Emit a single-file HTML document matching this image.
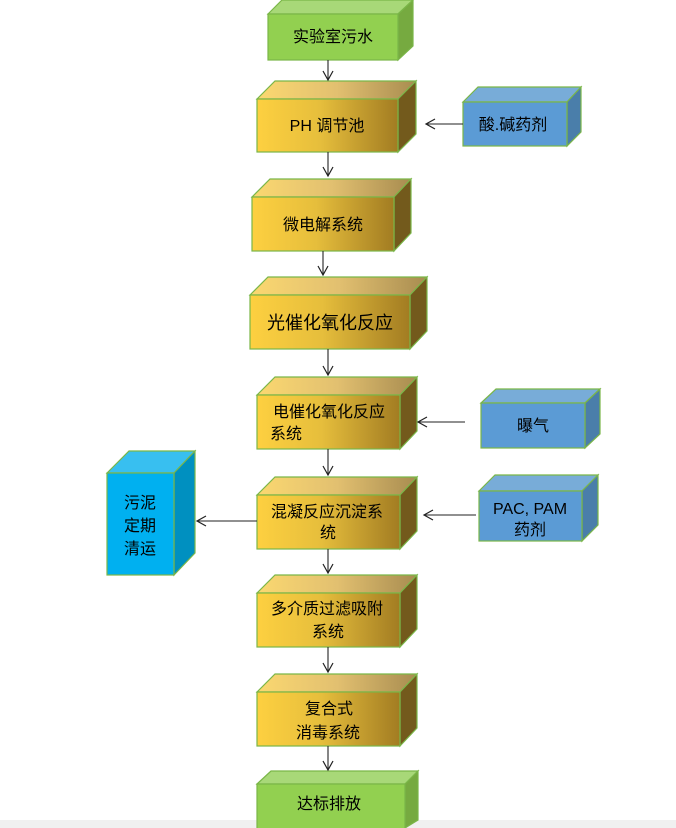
<!DOCTYPE html>
<html><head><meta charset="utf-8"><style>
html,body{margin:0;padding:0;background:#fff;}
svg{display:block;}
text{font-family:"Liberation Sans","Noto Sans CJK SC",sans-serif;fill:#000;}
</style></head><body>
<svg width="676" height="828" viewBox="0 0 676 828" xmlns="http://www.w3.org/2000/svg">
<defs>
<linearGradient id="gf" x1="0" x2="1" y1="0" y2="0"><stop offset="0" stop-color="#fdd040"/><stop offset="0.45" stop-color="#e6be3c"/><stop offset="1" stop-color="#a27c22"/></linearGradient>
<linearGradient id="gt" x1="0" x2="1" y1="0" y2="0"><stop offset="0" stop-color="#fbd870"/><stop offset="0.5" stop-color="#e2c070"/><stop offset="1" stop-color="#a88c50"/></linearGradient>
<marker id="ah" markerWidth="12" markerHeight="12" refX="10" refY="6" orient="auto" markerUnits="userSpaceOnUse"><path d="M1,1 L10,6 L1,11" fill="none" stroke="#222" stroke-width="1.2"/></marker>
</defs>
<rect x="0" y="820" width="676" height="8" fill="#f0f0f0"/>
<g stroke="#7ab648" stroke-width="1.2">
<polygon points="268,14 282,0 413,0 398,14" fill="#a8d878"/>
<polygon points="398,14 413,0 413,46 398,60" fill="#76aa40"/>
<rect x="268" y="14" width="130" height="46" fill="#92d050"/>
<polygon points="257,99 275,81 416,81 398,99" fill="url(#gt)"/>
<polygon points="398,99 416,81 416,134 398,152" fill="#735a1c"/>
<rect x="257" y="99" width="141" height="53" fill="url(#gf)"/>
<polygon points="252,197 270,179 411,179 394,197" fill="url(#gt)"/>
<polygon points="394,197 411,179 411,233 394,251" fill="#735a1c"/>
<rect x="252" y="197" width="142" height="54" fill="url(#gf)"/>
<polygon points="250,295 268,277 427,277 410,295" fill="url(#gt)"/>
<polygon points="410,295 427,277 427,331 410,349" fill="#735a1c"/>
<rect x="250" y="295" width="160" height="54" fill="url(#gf)"/>
<polygon points="257,395 275,377 417,377 400,395" fill="url(#gt)"/>
<polygon points="400,395 417,377 417,431 400,449" fill="#735a1c"/>
<rect x="257" y="395" width="143" height="54" fill="url(#gf)"/>
<polygon points="257,495 275,477 417,477 400,495" fill="url(#gt)"/>
<polygon points="400,495 417,477 417,531 400,549" fill="#735a1c"/>
<rect x="257" y="495" width="143" height="54" fill="url(#gf)"/>
<polygon points="257,593 275,575 417,575 400,593" fill="url(#gt)"/>
<polygon points="400,593 417,575 417,629 400,647" fill="#735a1c"/>
<rect x="257" y="593" width="143" height="54" fill="url(#gf)"/>
<polygon points="257,692 275,674 417,674 400,692" fill="url(#gt)"/>
<polygon points="400,692 417,674 417,728 400,746" fill="#735a1c"/>
<rect x="257" y="692" width="143" height="54" fill="url(#gf)"/>
<polygon points="257,784 271,771 418,771 405,784" fill="#a8d878"/>
<polygon points="405,784 418,771 418,820 405,828" fill="#76aa40"/>
<rect x="257" y="784" width="148" height="50" fill="#92d050"/>
<polygon points="463,102 478,87 581,87 567,102" fill="#78acd8"/>
<polygon points="567,102 581,87 581,132 567,146" fill="#4a7eaa"/>
<rect x="463" y="102" width="104" height="44" fill="#5b9bd5"/>
<polygon points="481,403 496,389 600,389 585,403" fill="#78acd8"/>
<polygon points="585,403 600,389 600,434 585,448" fill="#4a7eaa"/>
<rect x="481" y="403" width="104" height="45" fill="#5b9bd5"/>
<polygon points="479,491 495,475 598,475 582,491" fill="#78acd8"/>
<polygon points="582,491 598,475 598,525 582,541" fill="#4a7eaa"/>
<rect x="479" y="491" width="103" height="50" fill="#5b9bd5"/>
<polygon points="107,473 129,451 195,451 174,473" fill="#38bff0"/>
<polygon points="174,473 195,451 195,553 174,575" fill="#0090c0"/>
<rect x="107" y="473" width="67" height="102" fill="#00b0f0"/>
</g>
<g stroke="#222" stroke-width="1.1" marker-end="url(#ah)">
<line x1="328" y1="60" x2="328" y2="80"/>
<line x1="328" y1="152" x2="328" y2="176"/>
<line x1="323" y1="251" x2="323" y2="275"/>
<line x1="328" y1="349" x2="328" y2="375"/>
<line x1="328" y1="449" x2="328" y2="475"/>
<line x1="328" y1="549" x2="328" y2="573"/>
<line x1="328" y1="647" x2="328" y2="672"/>
<line x1="328" y1="746" x2="328" y2="770"/>
<line x1="463" y1="124" x2="426" y2="124"/>
<line x1="465" y1="422" x2="418" y2="422"/>
<line x1="476" y1="515" x2="424" y2="515"/>
<line x1="257" y1="521" x2="197" y2="521"/>
</g>
<g font-size="16" text-anchor="middle">
<text x="333" y="42">实验室污水</text>
<text x="327" y="131">PH 调节池</text>
<text x="323" y="230">微电解系统</text>
<text x="330" y="329" font-size="18">光催化氧化反应</text>
<text x="329" y="417">电催化氧化反应</text>
<text x="286" y="439">系统</text>
<text x="327" y="517">混凝反应沉淀系</text>
<text x="328" y="538">统</text>
<text x="327" y="614">多介质过滤吸附</text>
<text x="328" y="637">系统</text>
<text x="329" y="714">复合式</text>
<text x="328" y="738">消毒系统</text>
<text x="329" y="809">达标排放</text>
<text x="513" y="130">酸.碱药剂</text>
<text x="533" y="431">曝气</text>
<text x="530" y="514">PAC, PAM</text>
<text x="530" y="535">药剂</text>
<text x="140" y="508">污泥</text>
<text x="140" y="531">定期</text>
<text x="140" y="554">清运</text>
</g>
</svg>
</body></html>
